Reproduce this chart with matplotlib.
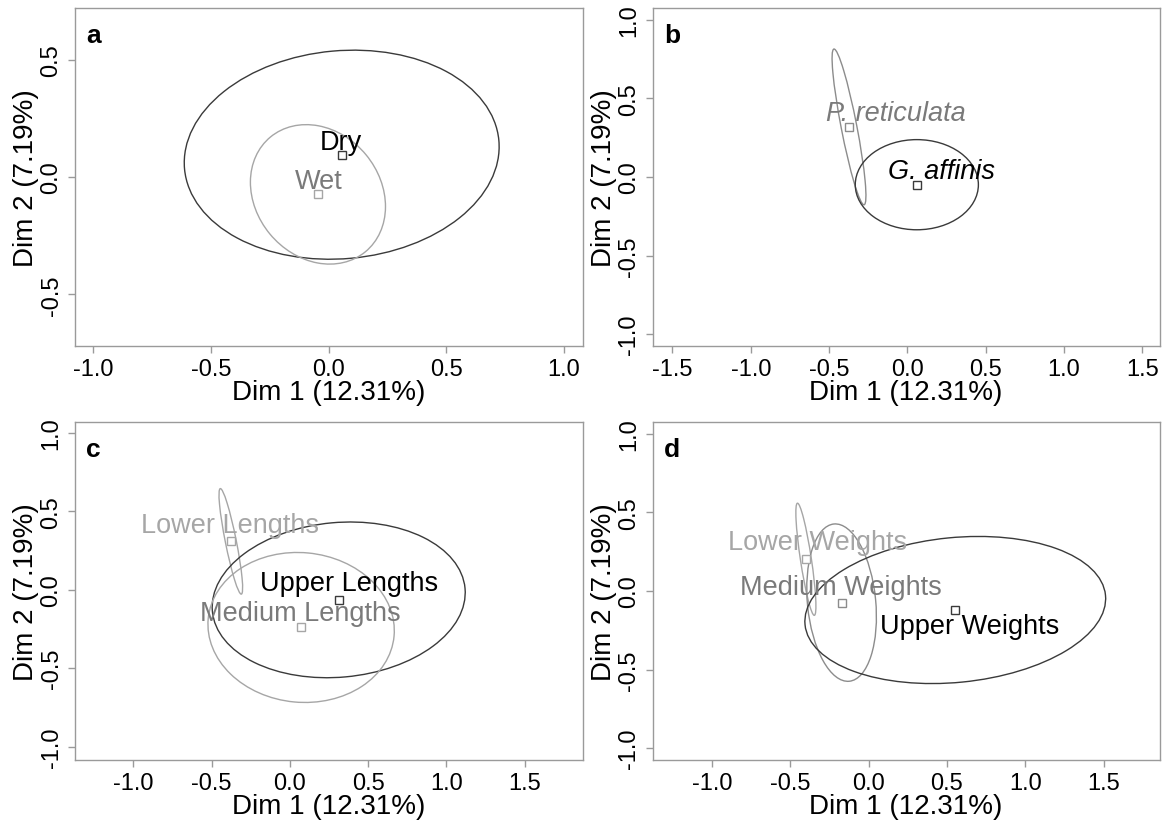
import matplotlib
matplotlib.use('Agg')
import matplotlib.pyplot as plt
from matplotlib.patches import Ellipse

plt.rcParams['font.family'] = ['Liberation Sans', 'DejaVu Sans']
plt.rcParams['axes.unicode_minus'] = False

# group centroids on Dim 1 / Dim 2
season = ['Dry', 'Wet']
season_x = [0.056, -0.045]
season_y = [0.095, -0.074]

species = ['P. reticulata', 'G. affinis']
species_x = [-0.373, 0.060]
species_y = [0.319, -0.049]

length_cls = ['Lower Lengths', 'Upper Lengths', 'Medium Lengths']
length_x = [-0.377, 0.312, 0.072]
length_y = [0.309, -0.064, -0.240]

weight_cls = ['Lower Weights', 'Medium Weights', 'Upper Weights']
weight_x = [-0.401, -0.173, 0.553]
weight_y = [0.202, -0.074, -0.121]

# confidence ellipses: semi-major, semi-minor, angle of major axis (deg)
season_ell = [(0.671, 0.443, 5.2), (0.317, 0.265, 129.5)]
species_ell = [(0.505, 0.050, 101.0), (0.393, 0.287, 0.0)]
length_ell = [(0.343, 0.035, 101.3), (0.810, 0.493, 5.2), (0.596, 0.477, -5.4)]
weight_ell = [(0.361, 0.035, 98.6), (0.503, 0.218, 95.6), (0.964, 0.461, 5.6)]

DARK = '#3a3a3a'
GREY = '#8c8c8c'
MID = '#7a7a7a'
LIGHT = '#a6a6a6'
FRAME = '#9a9a9a'

W, H = 1168, 828
fig = plt.figure(figsize=(W / 100, H / 100), dpi=100)


def panel(box, xlim, ylim, xticks, yticks, letter):
    x0, y0, x1, y1 = box
    ax = fig.add_axes([x0 / W, 1 - y1 / H, (x1 - x0) / W, (y1 - y0) / H])
    ax.set_xlim(xlim)
    ax.set_ylim(ylim)
    ax.set_xticks(xticks)
    ax.set_yticks(yticks)
    ax.set_xticklabels([f'{t:.1f}' for t in xticks])
    ax.set_yticklabels([f'{t:.1f}' for t in yticks], rotation=90, va='center')
    for s in ax.spines.values():
        s.set_color(FRAME)
        s.set_linewidth(1.0)
    ax.tick_params(direction='out', length=5, width=1.0, color=FRAME,
                   labelsize=17, pad=4)
    ax.set_xlabel('Dim 1 (12.31%)', fontsize=20, labelpad=-1)
    ax.set_ylabel('Dim 2 (7.19%)', fontsize=20, labelpad=1)
    ax.text(0.022, 0.955, letter, transform=ax.transAxes, fontsize=19,
            fontweight='bold', va='top', ha='left')
    return ax


def groups(ax, xs, ys, ells, colors, txtcolors, labels, lab_pos, italic=False):
    for x, y, (a, b, ang), c in zip(xs, ys, ells, colors):
        ax.add_patch(Ellipse((x, y), 2 * a, 2 * b, angle=ang, fill=False,
                             edgecolor=c, lw=1.0))
        ax.plot(x, y, marker='s', ms=5.5, mfc='white', mec=c, mew=1.0)
    for lab, (lx, ly), tc in zip(labels, lab_pos, txtcolors):
        ax.text(lx, ly, lab, color=tc, fontsize=19.5, ha='center', va='center',
                style='italic' if italic else 'normal')


ticks1 = [-1.0, -0.5, 0.0, 0.5, 1.0]

# a: season
ax = panel((75, 9, 583, 347), (-1.078, 1.082), (-0.72, 0.72),
           ticks1, [-0.5, 0.0, 0.5], 'a')
groups(ax, season_x, season_y, season_ell, [DARK, LIGHT],
       ['black', MID], season, [(0.051, 0.150), (-0.04, -0.017)])

# b: species
ax = panel((652.6, 9, 1159.6, 347), (-1.627, 1.61), (-1.076, 1.076),
           [-1.5, -1.0, -0.5, 0.0, 0.5, 1.0, 1.5], ticks1, 'b')
groups(ax, species_x, species_y, species_ell, [GREY, DARK],
       [MID, 'black'], species, [(-0.072, 0.41), (0.216, 0.038)], italic=True)

# c: length classes
ax = panel((75, 423, 583, 761), (-1.372, 1.872), (-1.085, 1.07),
           [-1.0, -0.5, 0.0, 0.5, 1.0, 1.5], ticks1, 'c')
groups(ax, length_x, length_y, length_ell, [LIGHT, DARK, LIGHT],
       [LIGHT, 'black', MID], length_cls,
       [(-0.385, 0.415), (0.375, 0.043), (0.065, -0.145)])

# d: weight classes
ax = panel((652.6, 423, 1159.6, 761), (-1.38, 1.858), (-1.076, 1.076),
           [-1.0, -0.5, 0.0, 0.5, 1.0, 1.5], ticks1, 'd')
groups(ax, weight_x, weight_y, weight_ell, [LIGHT, GREY, DARK],
       [LIGHT, MID, 'black'], weight_cls,
       [(-0.329, 0.315), (-0.18, 0.028), (0.644, -0.223)])

fig.savefig('out.png', dpi=100)
